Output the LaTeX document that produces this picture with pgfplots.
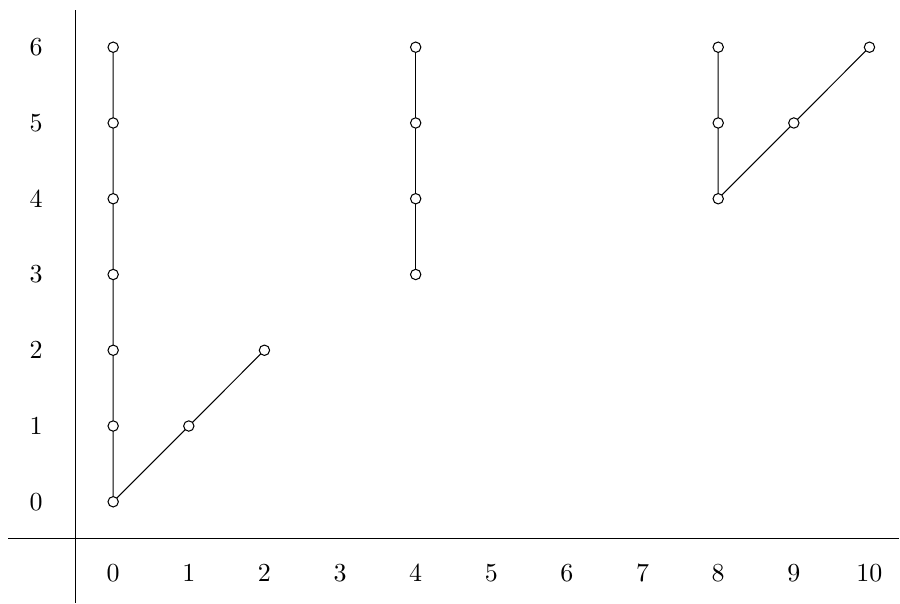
\documentclass[border=0pt]{standalone}
\usepackage{pgfplots}
\pgfplotsset{compat=1.18}
\begin{document}
\begin{tikzpicture}
\begin{axis}[
  width=346.15pt, height=231.92pt, scale only axis,
  xmin=-1.493, xmax=10.396, ymin=-1.332, ymax=6.620,
  clip=false,
  axis line style={draw=none},
  major tick length=0pt,
  xtick={0,1,2,3,4,5,6,7,8,9,10},
  ytick={0,1,2,3,4,5,6},
  xticklabel style={anchor=center, yshift=11.35pt},
  yticklabel style={anchor=center, xshift=13.85pt},
]
\path (rel axis cs:0,0) rectangle (rel axis cs:1,1);
\draw[line width=0.45pt] (axis cs:-1.387,-0.488) -- (axis cs:10.396,-0.488);
\draw[line width=0.45pt] (axis cs:-0.502,6.488) -- (axis cs:-0.502,-1.332);
\addplot[black, mark=*, mark options={fill=white, draw=black}, mark size=2pt] coordinates {
(0,6) (0,5) (0,4) (0,3) (0,2) (0,1) (0,0) (1,1) (2,2)};
\addplot[black, mark=*, mark options={fill=white, draw=black}, mark size=2pt] coordinates {
(4,3) (4,4) (4,5) (4,6)};
\addplot[black, mark=*, mark options={fill=white, draw=black}, mark size=2pt] coordinates {
(8,6) (8,5) (8,4) (9,5) (10,6)};
\end{axis}
\end{tikzpicture}
\end{document}
